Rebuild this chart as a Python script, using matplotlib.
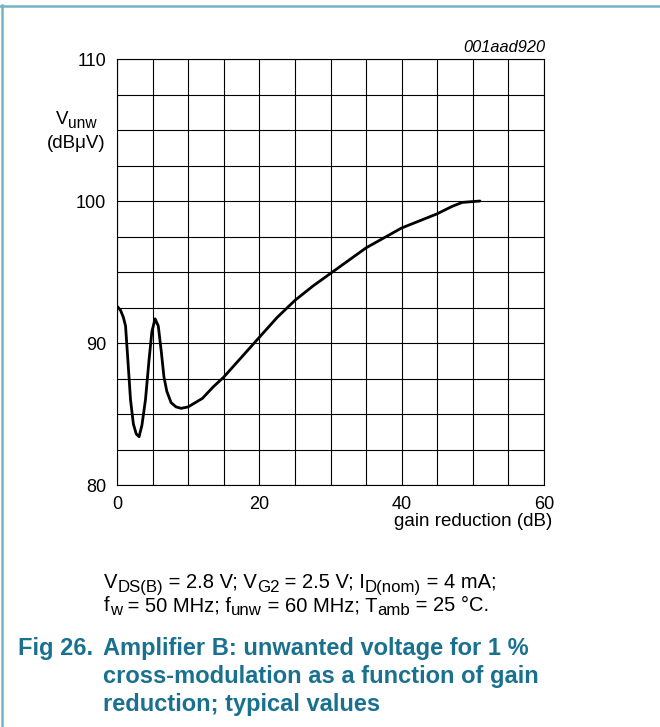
import numpy as np
import matplotlib
matplotlib.use('Agg')
import matplotlib.pyplot as plt
from matplotlib.lines import Line2D

plt.rcParams['font.family'] = ['Liberation Sans', 'DejaVu Sans']

# curve (gain reduction dB, V_unw dBuV)
gain_red = [0.0, 0.5, 0.9, 1.2, 1.5, 1.9, 2.3, 2.7, 3.1, 3.5, 4.0, 4.5, 4.9,
            5.35, 5.8, 6.2, 6.6, 7.0, 7.6, 8.3, 9.0, 10.0, 11.0, 12.0, 13.5,
            15.0, 17.5, 20.0, 22.5, 25.0, 27.5, 30.0, 32.5, 35.0, 37.5, 40.0,
            42.5, 45.0, 47.0, 48.5, 51.0]
v_unw = [92.6, 92.3, 91.8, 91.2, 89.0, 86.0, 84.3, 83.6, 83.4, 84.2, 86.0,
         88.8, 90.8, 91.7, 91.2, 89.5, 87.6, 86.6, 85.8, 85.5, 85.4, 85.5,
         85.8, 86.1, 86.9, 87.6, 89.0, 90.4, 91.8, 93.0, 94.0, 94.9, 95.8,
         96.7, 97.4, 98.1, 98.6, 99.1, 99.6, 99.9, 100.0]

x_ticks = [0, 20, 40, 60]
y_ticks = [80, 90, 100, 110]
x_grid = np.arange(0, 61, 5)
y_grid = np.arange(80, 110.1, 2.5)

W, H = 660, 727
fig = plt.figure(figsize=(W / 100, H / 100), dpi=100)
renderer = fig.canvas.get_renderer()


def runs_text(x_px, y_px, runs, size, ha='left', sub_scale=0.83):
    # text with subscripts, placed run by run; y_px is baseline (from top)
    sub_size = size * sub_scale
    drop = size * 0.28
    items = []
    width = 0
    for s, sub in runs:
        t = fig.text(0, 0, s, fontsize=sub_size if sub else size, va='baseline')
        w = t.get_window_extent(renderer).width
        items.append((t, sub, width))
        width += w
    x0 = x_px - (width / 2 if ha == 'center' else 0)
    for t, sub, off in items:
        yb = y_px + (drop if sub else 0)
        t.set_position(((x0 + off) / W, 1 - yb / H))


ax = fig.add_axes([117 / W, 1 - 485 / H, (544 - 117) / W, (485 - 59) / H])

for gx in x_grid:
    ax.axvline(gx, color='black', lw=0.8, zorder=1)
for gy in y_grid:
    ax.axhline(gy, color='black', lw=0.8, zorder=1)

ax.plot(gain_red, v_unw, color='black', lw=2.0, solid_capstyle='round',
        solid_joinstyle='round', zorder=3)

ax.set_xlim(0, 60)
ax.set_ylim(80, 110)
ax.set_xticks(x_ticks)
ax.set_yticks(y_ticks)
ax.tick_params(length=0, labelsize=13)
ax.tick_params(axis='y', pad=8)
ax.tick_params(axis='x', pad=8)
for spine in ax.spines.values():
    spine.set_linewidth(0.8)

# labels
runs_text(76, 124, [('V', False), ('unw', True)], 13.5, ha='center')
fig.text(76 / W, 1 - 143 / H, '(dBμV)', ha='center', va='center', fontsize=13.5)
fig.text(552 / W, 1 - 521 / H, 'gain reduction (dB)', ha='right', va='center', fontsize=13.5)
fig.text(545 / W, 1 - 47 / H, '001aad920', ha='right', va='center', fontsize=11.8,
         style='italic')

# conditions
runs_text(104, 588, [('V', False), ('DS(B)', True), (' = 2.8 V; V', False),
                     ('G2', True), (' = 2.5 V; I', False), ('D(nom)', True),
                     (' = 4 mA;', False)], 14.5)
runs_text(104, 611, [('f', False), ('w', True), (' = 50 MHz; f', False),
                     ('unw', True), (' = 60 MHz; T', False), ('amb', True),
                     (' = 25 °C.', False)], 14.5)

# caption
teal = '#19718f'
fig.text(18 / W, 1 - 648 / H, 'Fig 26.', ha='left', va='center', fontsize=17,
         weight='bold', color=teal)
cap = ['Amplifier B: unwanted voltage for 1 %',
       'cross-modulation as a function of gain',
       'reduction; typical values']
for i, line in enumerate(cap):
    fig.text(103 / W, 1 - (648 + 28 * i) / H, line, ha='left', va='center',
             fontsize=17, weight='bold', color=teal)

# frame
border = '#74b3c6'
fig.add_artist(Line2D([2 / W, 2 / W], [0, 1 - 5 / H], color=border, lw=1.8))
fig.add_artist(Line2D([0, 1], [1 - 5.5 / H, 1 - 5.5 / H], color=border, lw=1.8))

fig.savefig('out.png', dpi=100)
